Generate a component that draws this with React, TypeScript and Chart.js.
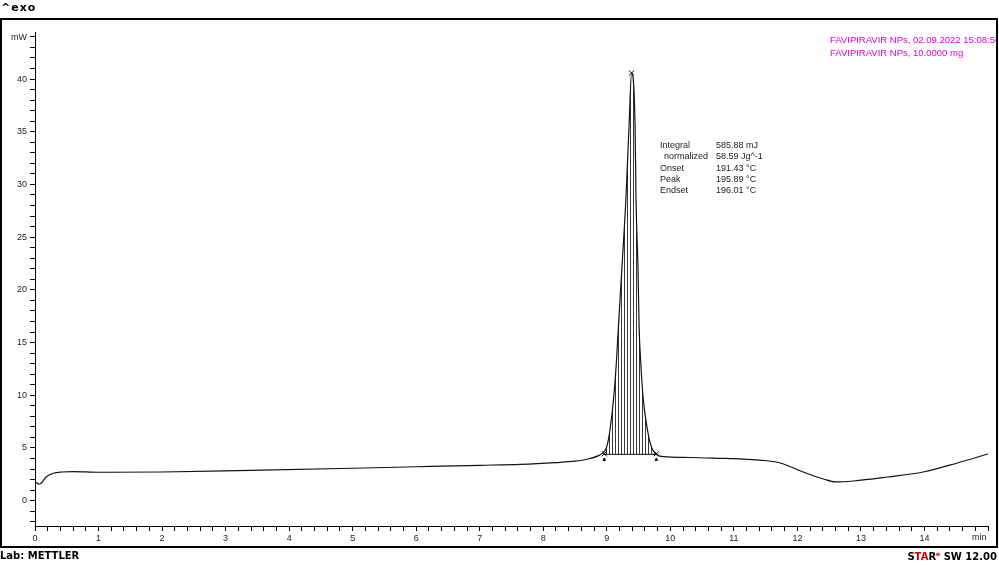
import React, { useEffect, useRef } from 'react';
import { Chart, registerables } from 'chart.js';

Chart.register(...registerables);

// DSC curve (time in min, heat flow in mW)
const timeMin = [
  0, 0.07, 0.18, 0.29, 0.42, 0.6, 1.0, 2.0, 3.4, 5.0, 6.0, 7.0, 7.64, 8.2, 8.5, 8.69, 8.88,
  8.95, 9.0, 9.05, 9.11, 9.15, 9.18, 9.24, 9.3, 9.35, 9.39, 9.445, 9.46, 9.49, 9.51, 9.535,
  9.57, 9.64, 9.7, 9.78, 9.89, 10.3, 10.79, 11.1, 11.4, 11.73, 12.09, 12.41, 12.6, 12.88,
  13.42, 13.98, 14.52, 15.0,
];
const heatFlowMW = [
  1.8, 1.56, 2.28, 2.6, 2.72, 2.76, 2.7, 2.72, 2.88, 3.08, 3.22, 3.36, 3.45, 3.62, 3.75, 3.93, 4.3,
  4.6, 5.13, 6.71, 9.87, 13.07, 16.2, 22.3, 28.5, 35.5, 40.57, 35.5, 28.5, 22.3, 16.2, 13.07,
  9.87, 6.71, 5.13, 4.4, 4.18, 4.1, 4.02, 3.96, 3.85, 3.58, 2.72, 2.06, 1.78, 1.87,
  2.25, 2.72, 3.58, 4.43,
];

// integration limits and markers
const onsetTime = 8.96;
const endsetTime = 9.78;
const integrationBase = 4.4;
const markerTimes = [8.96, 9.39, 9.78];
const markerValues = [4.45, 40.57, 4.45];
const arrowTimes = [8.96, 9.78];
const arrowValues = [3.9, 3.9];

// axes
const xTickLabels = [0, 1, 2, 3, 4, 5, 6, 7, 8, 9, 10, 11, 12, 13, 14];
const yTickLabels = [0, 5, 10, 15, 20, 25, 30, 35, 40];

// text blocks
const resultLabels = ['Integral', 'normalized', 'Onset', 'Peak', 'Endset'];
const resultValues = ['585.88 mJ', '58.59 Jg^-1', '191.43 °C', '195.89 °C', '196.01 °C'];
const sampleLines = ['FAVIPIRAVIR NPs, 02.09.2022 15:08:56', 'FAVIPIRAVIR NPs, 10.0000 mg'];

const FONT = "'Liberation Sans', Arial, sans-serif";

export default function App() {
  const canvasRef = useRef<HTMLCanvasElement | null>(null);

  useEffect(() => {
    document.body.style.margin = '0';
    const canvas = canvasRef.current;
    if (!canvas) return;
    const ctx = canvas.getContext('2d');
    if (!ctx) return;

    const pc = document.createElement('canvas');
    pc.width = 3;
    pc.height = 8;
    const pctx = pc.getContext('2d')!;
    pctx.fillStyle = '#3a3a3a';
    pctx.fillRect(0, 0, 1, 8);
    const hatch = ctx.createPattern(pc, 'repeat');

    const curve = timeMin.map((t, i) => ({ x: t, y: heatFlowMW[i] }));
    const peakPart = curve.filter((p) => p.x >= onsetTime - 0.02 && p.x <= endsetTime);

    const chart = new Chart(ctx, {
      type: 'line',
      data: {
        datasets: [
          {
            label: 'hatch',
            data: peakPart,
            borderWidth: 0,
            pointRadius: 0,
            backgroundColor: hatch as any,
            fill: { value: integrationBase } as any,
            cubicInterpolationMode: 'monotone',
            order: 3,
          },
          {
            label: 'curve',
            data: curve,
            borderColor: '#111',
            borderWidth: 1.2,
            pointRadius: 0,
            fill: false,
            cubicInterpolationMode: 'monotone',
            order: 2,
          },
          {
            label: 'base',
            data: [
              { x: onsetTime, y: integrationBase },
              { x: endsetTime, y: integrationBase },
            ],
            borderColor: '#111',
            borderWidth: 1,
            pointRadius: 0,
            fill: false,
            order: 1,
          },
          {
            label: 'markers',
            data: markerTimes.map((t, i) => ({ x: t, y: markerValues[i] })),
            showLine: false,
            pointStyle: 'crossRot',
            pointRadius: 3.5,
            borderColor: '#000',
            pointBorderWidth: 1,
            order: 0,
          },
          {
            label: 'arrows',
            data: arrowTimes.map((t, i) => ({ x: t, y: arrowValues[i] })),
            showLine: false,
            pointStyle: 'triangle',
            pointRadius: 1.5,
            borderColor: '#000',
            backgroundColor: '#000',
            pointBorderWidth: 1,
            order: 0,
          },
        ],
      },
      options: {
        animation: false,
        responsive: false,
        devicePixelRatio: 1,
        layout: { padding: { top: 32, right: 11, bottom: 20, left: 0 } },
        plugins: { legend: { display: false }, tooltip: { enabled: false } },
        events: [],
        scales: {
          x: {
            type: 'linear',
            min: 0,
            max: 15,
            ticks: {
              stepSize: 0.2,
              includeBounds: false,
              autoSkip: false,
              maxRotation: 0,
              padding: 2,
              color: '#222',
              font: { family: FONT, size: 9 },
              callback: (v: any) => {
                const n = Number(v);
                return Math.abs(n - Math.round(n)) < 1e-6 && xTickLabels.includes(Math.round(n))
                  ? String(Math.round(n))
                  : '';
              },
            },
            grid: { drawOnChartArea: false, drawTicks: true, tickLength: 5, tickColor: '#000' },
            border: { display: true, color: '#000', width: 1 },
            afterFit: (s: any) => {
              s.height = 21;
            },
          },
          y: {
            type: 'linear',
            min: -2.4,
            max: 44.46,
            ticks: {
              stepSize: 1,
              includeBounds: false,
              autoSkip: false,
              padding: 3,
              color: '#222',
              font: { family: FONT, size: 9 },
              callback: (v: any) => {
                const n = Number(v);
                return yTickLabels.includes(n) ? String(n) : '';
              },
            },
            grid: { drawOnChartArea: false, drawTicks: true, tickLength: 5, tickColor: '#000' },
            border: { display: true, color: '#000', width: 1 },
            afterFit: (s: any) => {
              s.width = 35;
            },
          },
        },
      },
    });
    return () => chart.destroy();
  }, []);

  const abs = (extra: React.CSSProperties): React.CSSProperties => ({
    position: 'absolute',
    whiteSpace: 'nowrap',
    lineHeight: '1',
    ...extra,
  });

  return (
    <div style={{ position: 'fixed', left: 0, top: 0, width: 999, height: 567, background: '#fff', overflow: 'hidden' }}>
      <canvas ref={canvasRef} width={999} height={567} style={{ position: 'absolute', left: 0, top: 0, width: 999, height: 567 }} />
      <div style={{ position: 'absolute', left: 0, top: 18, width: 998, height: 530, border: '2px solid #000', boxSizing: 'border-box', pointerEvents: 'none' }} />
      <div style={abs({ left: 1, top: 1, font: `bold 11px 'DejaVu Sans', sans-serif`, letterSpacing: '1px', color: '#000' })}>^exo</div>
      <div style={abs({ left: 11, top: 32, font: `9px ${FONT}`, color: '#222' })}>mW</div>
      <div style={abs({ left: 972, top: 532, font: `9px ${FONT}`, color: '#222' })}>min</div>
      <div style={abs({ left: 830, top: 34, width: 166, overflow: 'hidden', font: `9.5px ${FONT}`, color: '#e000e0' })}>
        <div>{sampleLines[0]}</div>
        <div style={{ marginTop: 1.5 }}>{sampleLines[1]}</div>
      </div>
      {resultLabels.map((l, i) => (
        <div key={l} style={abs({ left: i === 1 ? 664 : 660, top: 140 + i * 11.3, font: `9px ${FONT}`, color: '#222' })}>{l}</div>
      ))}
      {resultValues.map((v, i) => (
        <div key={v} style={abs({ left: 716, top: 140 + i * 11.3, font: `9px ${FONT}`, color: '#222' })}>{v}</div>
      ))}
      <div style={abs({ left: 0, top: 550, font: `bold 10px 'DejaVu Sans', sans-serif`, color: '#000' })}>Lab: METTLER</div>
      <div style={abs({ right: 2, top: 550, font: `bold 10px 'DejaVu Sans', sans-serif`, color: '#000' })}>
        <span>S</span>
        <span style={{ color: '#d00000' }}>TA</span>
        <span>R</span>
        <sup style={{ color: '#d00000', fontSize: 6 }}>e</sup>
        <span> SW 12.00</span>
      </div>
    </div>
  );
}
